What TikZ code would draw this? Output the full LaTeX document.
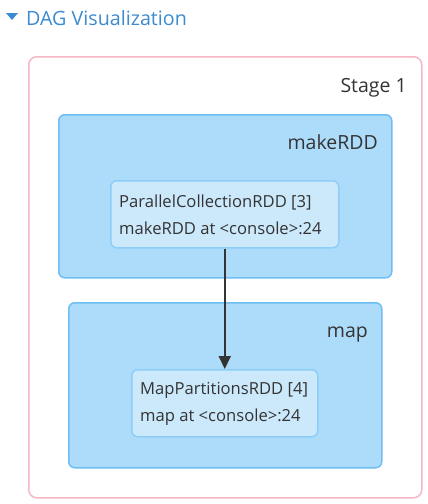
\documentclass[tikz,border=0pt]{standalone}
\usepackage{fontspec}
\setmainfont{Open Sans}
\usetikzlibrary{arrows.meta}
\definecolor{stagepink}{HTML}{F6B7C6}
\definecolor{clusterfill}{HTML}{ADDCFB}
\definecolor{clusterline}{HTML}{6DBEF3}
\definecolor{rddfill}{HTML}{CCE9FC}
\definecolor{rddline}{HTML}{8DCDF6}
\definecolor{headblue}{HTML}{3C8AD0}
\definecolor{textgray}{HTML}{333333}
\tikzset{
  cluster/.style={draw=clusterline,fill=clusterfill,line width=1.5pt,rounded corners=6pt,anchor=north west,inner sep=0pt},
  rdd/.style={draw=rddline,fill=rddfill,line width=1.5pt,rounded corners=6pt,anchor=north west,inner sep=0pt},
  lbl/.style={text=textgray,font=\fontsize{16.6}{19}\selectfont,anchor=base west,inner sep=0pt},
  clbl/.style={text=textgray,font=\fontsize{19.5}{23}\selectfont,anchor=base east,inner sep=0pt}
}
\begin{document}
\begin{tikzpicture}[x=1pt,y=-1pt]
    \useasboundingbox (0,0) rectangle (428,504);
    % header
    \fill[headblue] (6,13) -- (18,13) -- (12,20) -- cycle;
    \node[text=headblue,font=\fontsize{19.7}{23}\selectfont,anchor=base west,inner sep=0pt] (title) at (26,25) {DAG Visualization};
    % Stage 1
    \node[draw=stagepink,line width=1.5pt,rounded corners=8pt,anchor=north west,minimum width=393pt,minimum height=441pt] (stage) at (28,56) {};
    \node[clbl] (stagelbl) at (407,92) {Stage 1};
    % makeRDD cluster
    \node[cluster,minimum width=333pt,minimum height=163pt] (makecl) at (58,114) {};
    \node[clbl] (makelbl) at (378,149) {makeRDD};
    \node[rdd,minimum width=228pt,minimum height=67pt] (rdd3) at (110,180) {};
    \node[lbl] (rdd3a) at (119,207) {ParallelCollectionRDD [3]};
    \node[lbl] (rdd3b) at (119,234) {makeRDD at <console>:24};
    % map cluster
    \node[cluster,minimum width=313pt,minimum height=165pt] (mapcl) at (68,302) {};
    \node[clbl] (maplbl) at (368,337) {map};
    \node[rdd,minimum width=186pt,minimum height=67pt] (rdd4) at (131,369) {};
    \node[lbl] (rdd4a) at (140,394) {MapPartitionsRDD [4]};
    \node[lbl] (rdd4b) at (140,421) {map at <console>:24};
    % edge
    \draw[textgray,line width=2pt,-{Triangle[length=13pt,width=12pt]}] (rdd3.south) -- (rdd4.north);
\end{tikzpicture}
\end{document}
